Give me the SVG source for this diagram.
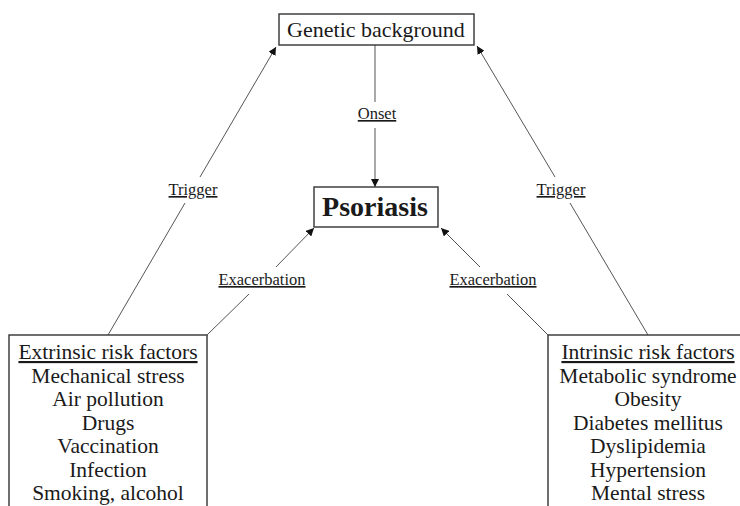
<svg xmlns="http://www.w3.org/2000/svg" width="740" height="506" viewBox="0 0 740 506">
<defs>
<style>
.box{fill:#fff;stroke:#333;stroke-width:1.4}
.ln{stroke:#555;stroke-width:1;fill:none}
.t{font-family:"Liberation Serif","Times New Roman",serif;fill:#1a1a1a;text-anchor:middle}
.lbl{font-size:16.5px;text-decoration:underline}
.item{font-size:21.5px}
</style>
<marker id="ah" viewBox="0 0 10 10" refX="10" refY="5" markerWidth="8" markerHeight="8" markerUnits="userSpaceOnUse" orient="auto">
<path d="M0,0 L10,5 L0,10 z" fill="#111"/>
</marker>
</defs>
<rect width="740" height="506" fill="#fff"/>
<g id="connectors">
<line class="ln" x1="375" y1="45" x2="375" y2="102"/>
<line class="ln" x1="375" y1="128" x2="375" y2="187" marker-end="url(#ah)"/>
<line class="ln" x1="108" y1="335" x2="185" y2="203"/>
<line class="ln" x1="200" y1="177" x2="276" y2="47" marker-end="url(#ah)"/>
<line class="ln" x1="648" y1="335" x2="570" y2="203"/>
<line class="ln" x1="555" y1="177" x2="477" y2="46" marker-end="url(#ah)"/>
<line class="ln" x1="207" y1="335" x2="249" y2="294"/>
<line class="ln" x1="276" y1="267" x2="314" y2="228" marker-end="url(#ah)"/>
<line class="ln" x1="548" y1="335" x2="507" y2="294"/>
<line class="ln" x1="480" y1="267" x2="441" y2="228" marker-end="url(#ah)"/>
<text class="t lbl" x="377" y="119">Onset</text>
<text class="t lbl" x="193" y="195">Trigger</text>
<text class="t lbl" x="561" y="195">Trigger</text>
<text class="t lbl" x="262" y="285">Exacerbation</text>
<text class="t lbl" x="493" y="285">Exacerbation</text>
</g>
<g id="genetic">
<rect class="box" x="279" y="14" width="195" height="31"/>
<text class="t" x="376" y="37" font-size="22">Genetic background</text>
</g>
<g id="psoriasis">
<rect class="box" x="314" y="187" width="124" height="40"/>
<text class="t" x="375" y="216" font-size="28" font-weight="bold">Psoriasis</text>
</g>
<g id="extrinsic">
<rect class="box" x="9" y="335" width="198" height="190"/>
<text class="t item" x="108" y="359" text-decoration="underline">Extrinsic risk factors</text>
<text class="t item" x="108" y="383">Mechanical stress</text>
<text class="t item" x="108" y="406">Air pollution</text>
<text class="t item" x="108" y="430">Drugs</text>
<text class="t item" x="108" y="453">Vaccination</text>
<text class="t item" x="108" y="477">Infection</text>
<text class="t item" x="108" y="500">Smoking, alcohol</text>
</g>
<g id="intrinsic">
<rect class="box" x="548" y="335" width="202" height="190"/>
<text class="t item" x="648" y="359" text-decoration="underline">Intrinsic risk factors</text>
<text class="t item" x="648" y="383">Metabolic syndrome</text>
<text class="t item" x="648" y="406">Obesity</text>
<text class="t item" x="648" y="430">Diabetes mellitus</text>
<text class="t item" x="648" y="453">Dyslipidemia</text>
<text class="t item" x="648" y="477">Hypertension</text>
<text class="t item" x="648" y="500">Mental stress</text>
</g>
</svg>
